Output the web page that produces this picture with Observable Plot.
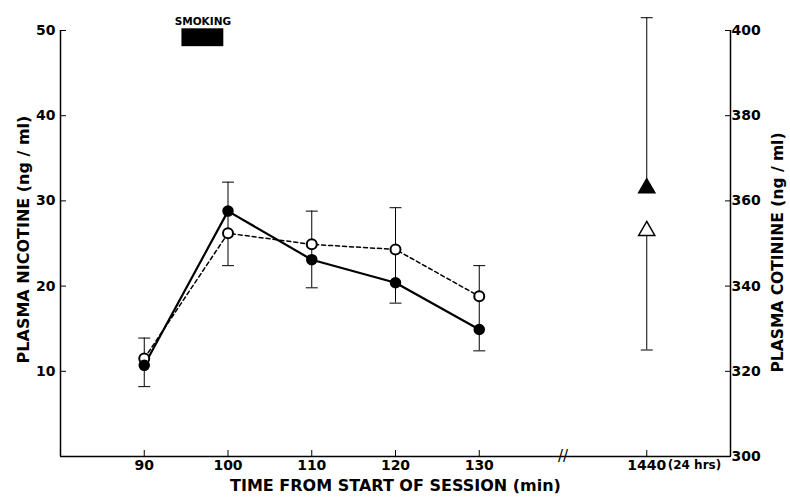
<!DOCTYPE html>
<html>
<head>
<meta charset="utf-8">
<script src="https://cdn.jsdelivr.net/npm/d3@7"></script>
<script src="https://cdn.jsdelivr.net/npm/@observablehq/plot@0.6"></script>
<style>
  html, body { margin: 0; padding: 0; background: #fff; }
  #chart svg { display: block; }
  g[aria-label="axis-title"] text { word-spacing: 6px; letter-spacing: 0.4px; }
</style>
</head>
<body>
<div id="chart"></div>
<script>
// Session times (min) and plasma nicotine (ng/ml)
const times = [90, 100, 110, 120, 130];
const nicotineFilled = [10.7, 28.8, 23.1, 20.4, 14.9];
const nicotineOpen = [11.5, 26.2, 24.9, 24.3, 18.8];
const errLow = [8.2, 22.4, 19.8, 18.0, 12.4];
const errHigh = [13.9, 32.2, 28.8, 29.2, 22.4];

// 24 h cotinine (ng/ml); plotted at the broken-axis position
const cotininePos = 150;
const cotinineFilled = 363;
const cotinineOpen = 353;
const cotinineHigh = 403;
const cotinineLow = 325;

// Axis ticks
const xTicks = [90, 100, 110, 120, 130, 150];
const xTickLabels = ["90", "100", "110", "120", "130", "1440"];
const yTicksLeft = [10, 20, 30, 40, 50];
const cotinineTicks = [300, 320, 340, 360, 380, 400];
const breakAt = [140];
const smoking = [{start: 94.5, end: 99.5}];

const cot2y = c => (c - 300) / 2;
const y2cot = y => 300 + 2 * y;

const rows = times.map((t, i) => ({t, filled: nicotineFilled[i], open: nicotineOpen[i], lo: errLow[i], hi: errHigh[i]}));
const cot = [{t: cotininePos, filled: cot2y(cotinineFilled), open: cot2y(cotinineOpen), hi: cot2y(cotinineHigh), lo: cot2y(cotinineLow)}];

const cap = {draw(ctx) { ctx.moveTo(-6, 0); ctx.lineTo(6, 0); }};
const font = "DejaVu Sans";

const chart = Plot.plot({
  width: 790,
  height: 497,
  marginLeft: 60,
  marginRight: 60,
  marginTop: 30,
  marginBottom: 41,
  x: {domain: [80, 160]},
  y: {domain: [0, 50]},
  style: {fontFamily: font, fontWeight: "bold", color: "#000", background: "#fff"},
  marks: [
    Plot.ruleX([80], {stroke: "#000", strokeWidth: 1.5}),
    Plot.ruleX([160], {stroke: "#000", strokeWidth: 1.5}),
    Plot.ruleY([0], {stroke: "#000", strokeWidth: 1.5}),
    Plot.text(breakAt, {x: d => d, y: 0, text: () => "//", fontSize: 15, fontWeight: "normal", fill: "#000"}),
    Plot.axisY(yTicksLeft, {anchor: "left", tickSize: -6, tickPadding: 11, fontSize: 14, label: null, stroke: "#000"}),
    Plot.axisY(cotinineTicks.map(cot2y), {anchor: "right", tickSize: -6, tickPadding: 7, fontSize: 14, label: null, tickFormat: y2cot, stroke: "#000"}),
    Plot.axisX(xTicks, {anchor: "bottom", tickSize: -6, tickPadding: 10, fontSize: 14, label: null, tickFormat: d => xTickLabels[xTicks.indexOf(d)], stroke: "#000"}),
    Plot.text([cotininePos], {x: d => d, frameAnchor: "bottom", text: () => "(24 hrs)", textAnchor: "start", lineAnchor: "top", dx: 21, dy: 4, fontSize: 12}),
    // smoking period
    Plot.rect(smoking, {x1: "start", x2: "end", y1: 48.1, y2: 50.2, fill: "#000"}),
    Plot.text(smoking, {x: d => (d.start + d.end) / 2, y: 50.2, text: () => "SMOKING", lineAnchor: "bottom", dy: -4, fontSize: 10.5}),
    // error bars
    Plot.ruleX(rows, {x: "t", y1: "lo", y2: "hi", stroke: "#000", strokeWidth: 1}),
    Plot.dot(rows, {x: "t", y: "lo", symbol: cap, stroke: "#000", fill: "none", strokeWidth: 1}),
    Plot.dot(rows, {x: "t", y: "hi", symbol: cap, stroke: "#000", fill: "none", strokeWidth: 1}),
    Plot.ruleX(cot, {x: "t", y1: "filled", y2: "hi", stroke: "#000", strokeWidth: 1}),
    Plot.ruleX(cot, {x: "t", y1: "lo", y2: "open", stroke: "#000", strokeWidth: 1}),
    Plot.dot(cot, {x: "t", y: "lo", symbol: cap, stroke: "#000", fill: "none", strokeWidth: 1}),
    Plot.dot(cot, {x: "t", y: "hi", symbol: cap, stroke: "#000", fill: "none", strokeWidth: 1}),
    // series lines
    Plot.line(rows, {x: "t", y: "open", stroke: "#000", strokeWidth: 1.5, strokeDasharray: "4,3"}),
    Plot.line(rows, {x: "t", y: "filled", stroke: "#000", strokeWidth: 2.2}),
    Plot.dot(rows, {x: "t", y: "open", r: 5, fill: "#fff", stroke: "#000", strokeWidth: 2}),
    Plot.dot(rows, {x: "t", y: "filled", r: 5, fill: "#000", stroke: "#000"}),
    Plot.dot(cot, {x: "t", y: "filled", symbol: "triangle", r: 6, fill: "#000", stroke: "#000"}),
    Plot.dot(cot, {x: "t", y: "open", symbol: "triangle", r: 6, fill: "#fff", stroke: "#000", strokeWidth: 1.5}),
    // axis titles
    Plot.text(["PLASMA NICOTINE (ng / ml)"], {frameAnchor: "left", text: d => d, rotate: -90, textAnchor: "middle", dx: -37, dy: -4, fontSize: 16, ariaLabel: "axis-title"}),
    Plot.text(["PLASMA COTININE (ng / ml)"], {frameAnchor: "right", text: d => d, rotate: -90, textAnchor: "middle", dx: 48, dy: 9, fontSize: 15.5, ariaLabel: "axis-title"}),
    Plot.text(["TIME FROM START OF SESSION (min)"], {frameAnchor: "bottom", text: d => d, textAnchor: "middle", dy: 34, fontSize: 16, ariaLabel: "axis-title"})
  ]
});
document.getElementById("chart").append(chart);
</script>
</body>
</html>
